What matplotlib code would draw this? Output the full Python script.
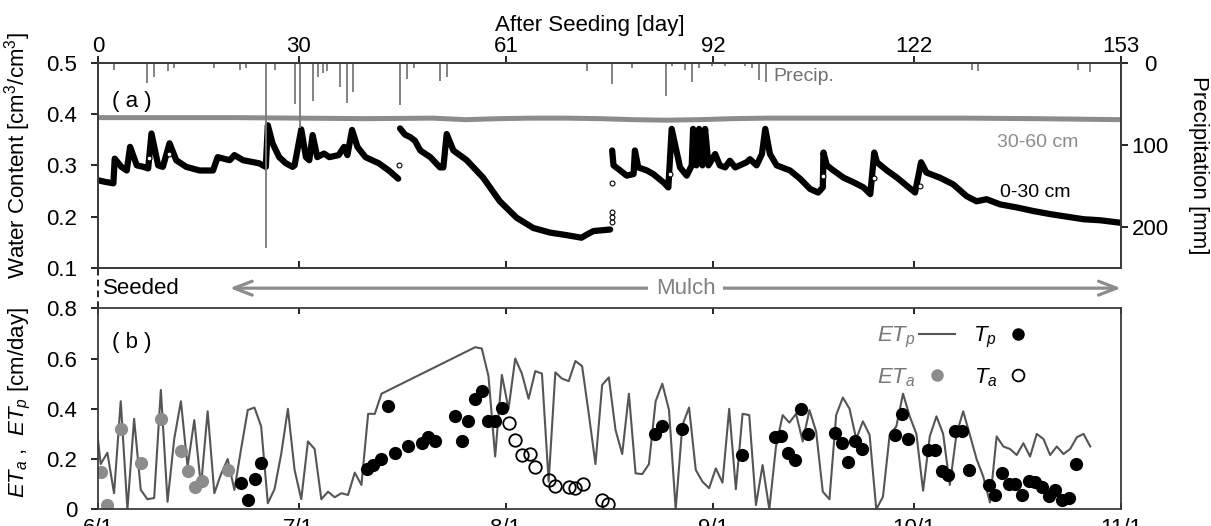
import numpy as np
import matplotlib
matplotlib.use("Agg")
import matplotlib.pyplot as plt
from matplotlib.lines import Line2D


# ---- data ----
DAY_TICKS = [0, 30, 61, 92, 122, 153]
DATE_LABELS = ["6/1", "7/1", "8/1", "9/1", "10/1", "11/1"]
WC_TICKS = [0.1, 0.2, 0.3, 0.4, 0.5]
ET_TICKS = [0, 0.2, 0.4, 0.6, 0.8]
PREC_TICKS = [0, 100, 200]

# water content 0-30 cm (NaN = gap in the record)
sm1_day = [0, 1.0, 2.3, 2.5, 3.5, 4.3, 4.8, 5.8, 6.8, 7.5, 8.0, 9.0, 9.7, 10.7, 11.7,
           13.2, 15.2, 17.2, 17.9, 19.7, 20.4, 21.7, 24.1, 25.1, 25.4, 26.1, 27.1, 28.1,
           29.1, 29.4, 30.4, 31.1, 31.6, 32.1, 32.8, 33.8, 34.6, 36.0, 36.8, 37.3, 38.0,
           38.8, 40.0, 42.0, 43.5, 44.9, np.nan,
           45.17, 45.9, 46.7, 47.4, 48.2, 49.7, 51.15, 51.65, 52.15, 53.15, 55.15, 57.6,
           60.1, 62.6, 65.1, 67.6, 70.1, 72.3, 73.1, 74.1, 76.6, np.nan,
           76.9, 77.1, 78.1, 79.07, 80.1, 80.3, 80.8, 82.1, 83.05, 84.55, 85.3, 85.8, 87.05,
           88.05, 88.8, 89.0, 89.5, 89.9, 90.4, 90.8, 91.3, 92.3, 93.0, 93.8, 94.5, 95.3,
           97.0, 97.5, 98.5, 99.3, 99.8, 100.5, 101.5, 103.5, 105.0, 106.5, 107.7, 108.4,
           108.5, 109.0, 110.0, 111.5, 113.0, 114.5, 115.5, 116.1, 116.5, 118.0, 119.5,
           121.0, 122.2, 123.1, 123.9, 125.9, 127.9, 129.9, 131.4, 132.9, 134.9, 137.4,
           139.9, 142.4, 144.9, 147.4, 149.9, 153.0]
sm1_val = [0.271, 0.268, 0.265, 0.313, 0.297, 0.29, 0.336, 0.30, 0.297, 0.294, 0.362, 0.30,
           0.297, 0.343, 0.31, 0.297, 0.29, 0.29, 0.316, 0.31, 0.32, 0.31, 0.304, 0.297,
           0.378, 0.343, 0.316, 0.304, 0.297, 0.30, 0.37, 0.316, 0.31, 0.359, 0.316, 0.323,
           0.316, 0.32, 0.336, 0.32, 0.369, 0.336, 0.316, 0.304, 0.29, 0.274, np.nan,
           0.372, 0.36, 0.355, 0.348, 0.329, 0.316, 0.296, 0.296, 0.361, 0.329, 0.31, 0.276,
           0.23, 0.198, 0.178, 0.169, 0.164, 0.159, 0.165, 0.172, 0.175, np.nan,
           0.329, 0.30, 0.29, 0.28, 0.283, 0.329, 0.296, 0.29, 0.283, 0.267, 0.257, 0.371,
           0.296, 0.28, 0.30, 0.371, 0.30, 0.371, 0.30, 0.371, 0.30, 0.322, 0.30, 0.296,
           0.309, 0.296, 0.306, 0.312, 0.30, 0.322, 0.371, 0.322, 0.30, 0.29, 0.274, 0.254,
           0.247, 0.257, 0.325, 0.30, 0.29, 0.276, 0.267, 0.257, 0.244, 0.325, 0.306, 0.29,
           0.276, 0.26, 0.247, 0.306, 0.286, 0.276, 0.263, 0.24, 0.23, 0.234, 0.224, 0.218,
           0.211, 0.205, 0.2, 0.195, 0.193, 0.188]

# isolated readings during the fast rises (hollow symbols)
jump_day = [7.6, 10.6, 45.0, 76.8, 76.8, 76.8, 76.8, 85.6, 108.4, 116.0, 123.0]
jump_val = [0.315, 0.322, 0.30, 0.19, 0.20, 0.21, 0.265, 0.283, 0.28, 0.275, 0.26]

# water content 30-60 cm
sm2_day = [0, 10, 20, 30, 40, 50, 55, 60, 65, 70, 75, 80, 85, 90, 95, 100, 110, 120, 130, 140, 153]
sm2_val = [0.393, 0.393, 0.393, 0.392, 0.391, 0.392, 0.389, 0.391, 0.392, 0.392, 0.391,
           0.389, 0.388, 0.389, 0.391, 0.392, 0.392, 0.392, 0.392, 0.391, 0.389]

# daily precipitation [mm]
prec_day = [2.4, 7.4, 8.4, 10.4, 11.3, 17.4, 21.2, 22.2, 25.2, 26.4, 29.4, 30.2, 32.2, 32.9,
            33.6, 34.2, 36.2, 37.2, 38.2, 45.2, 46.2, 47.2, 51.2, 52.2, 73.1, 76.9, 79.8,
            84.9, 85.9, 87.8, 88.9, 89.9, 91.8, 93.8, 96.8, 97.8, 98.9, 99.9, 130.7, 131.6,
            146.5, 148.4]
prec_mm = [8.5, 25, 17, 10, 6, 6, 8.5, 7, 226, 8.5, 50, 80, 47, 18, 12.6, 10.6, 30, 49, 36,
           51, 19.5, 6.5, 22, 17, 10, 26, 6.5, 40, 4.5, 8.5, 23, 6.5, 4.5, 4.5, 4.5, 6.5, 21,
           23, 8.5, 10, 8.5, 11]

# potential ET (daily, no record between day 43 and 56)
etp_day = np.r_[np.arange(-1, 43), np.arange(56, 149)] + 0.4
etp_val = [0.42, 0.18, 0.225, 0.064, 0.43, 0.0, 0.36, 0.077, 0.04, 0.045, 0.475, 0.03, 0.28,
           0.43, 0.17, 0.355, 0.09, 0.39, 0.064, 0.14, 0.2, 0.077, 0.24, 0.395, 0.405, 0.33,
           0.024, 0.08, 0.22, 0.40, 0.157, 0.04, 0.27, 0.24, 0.04, 0.07, 0.048, 0.064, 0.057,
           0.146, 0.097, 0.38, 0.38, 0.46,
           0.645, 0.64, 0.53, 0.21, 0.535, 0.40, 0.60, 0.54, 0.44, 0.55, 0.54, 0.11, 0.545,
           0.52, 0.51, 0.59, 0.57, 0.38, 0.18, 0.495, 0.525, 0.316, 0.22, 0.46, 0.143, 0.14,
           0.18, 0.43, 0.50, 0.395, 0.0, 0.335, 0.405, 0.157, 0.11, 0.084, 0.163, 0.106,
           0.40, 0.08, 0.38, 0.375, 0.017, 0.176, 0.0, 0.25, 0.375, 0.345, 0.38, 0.27,
           0.395, 0.31, 0.07, 0.04, 0.375, 0.445, 0.40, 0.28, 0.35, 0.296, 0.0, 0.05, 0.296,
           0.33, 0.46, 0.37, 0.30, 0.074, 0.29, 0.37, 0.30, 0.097, 0.30, 0.39, 0.296, 0.20,
           0.13, 0.027, 0.29, 0.25, 0.24, 0.216, 0.263, 0.21, 0.30, 0.28, 0.216, 0.25, 0.22,
           0.24, 0.287, 0.30, 0.25]

eta_day = [0.4, 1.4, 3.4, 6.4, 9.4, 12.4, 13.4, 14.5, 15.5, 19.5]
eta_val = [0.15, 0.017, 0.32, 0.186, 0.358, 0.232, 0.154, 0.088, 0.114, 0.157]

tp_day = [21.4, 22.5, 23.5, 24.4, 40.2, 41.1, 42.4, 43.4, 44.4, 46.4, 48.4, 49.4, 50.4, 53.4,
          54.4, 55.4, 56.4, 57.4, 58.4, 59.4, 60.4, 83.3, 84.3, 87.3, 96.3, 101.2, 102.2,
          103.2, 104.2, 105.2, 106.2, 110.2, 111.2, 112.2, 113.2, 114.2, 119.2, 120.2, 121.2,
          124.2, 125.2, 126.2, 127.2, 128.2, 129.2, 130.2, 133.2, 134.2, 135.2, 136.2, 137.2,
          138.2, 139.2, 140.2, 141.2, 142.2, 143.2, 144.2, 145.2, 146.2]
tp_val = [0.106, 0.037, 0.12, 0.186, 0.16, 0.176, 0.20, 0.41, 0.223, 0.252, 0.265, 0.287,
          0.273, 0.37, 0.273, 0.35, 0.44, 0.47, 0.353, 0.353, 0.405, 0.30, 0.33, 0.32, 0.216,
          0.287, 0.29, 0.226, 0.196, 0.40, 0.30, 0.305, 0.265, 0.19, 0.273, 0.24, 0.295, 0.38,
          0.278, 0.236, 0.237, 0.154, 0.137, 0.31, 0.31, 0.157, 0.095, 0.058, 0.146, 0.10,
          0.10, 0.057, 0.114, 0.108, 0.089, 0.052, 0.077, 0.037, 0.046, 0.182]

ta_day = [61.4, 62.4, 63.4, 64.6, 65.4, 67.4, 68.4, 70.4, 71.4, 72.5, 75.4, 76.3]
ta_val = [0.345, 0.277, 0.216, 0.22, 0.17, 0.116, 0.092, 0.087, 0.084, 0.10, 0.038, 0.02]

SEED_DAY = 0
MULCH_START = 19.7
MULCH_END = 153

# ---- layout (pixels of the 1211x526 target) ----
W, H = 1211, 526
X0, X1 = 98, 1121
TOP_A, BOT_A = 62.7, 268
TOP_B, BOT_B = 308.3, 509.3

GRAY = "#8c8c8c"
DARK = "#3c3c3c"
LINE = "#555555"


def px_box(top, bottom):
    return [X0 / W, 1 - bottom / H, (X1 - X0) / W, (bottom - top) / H]


def style_spines(ax):
    for sp in ax.spines.values():
        sp.set_color(DARK)
        sp.set_linewidth(1.3)


def main() -> None:
    plt.rcParams["font.family"] = "Liberation Sans"
    plt.rcParams["mathtext.fontset"] = "custom"
    plt.rcParams["mathtext.rm"] = "Liberation Sans"
    plt.rcParams["mathtext.it"] = "Liberation Sans:italic"
    plt.rcParams["font.size"] = 16

    fig = plt.figure(figsize=(W / 100, H / 100), dpi=100)
    ax_a = fig.add_axes(px_box(TOP_A, BOT_A))
    ax_m = fig.add_axes(px_box(BOT_A, TOP_B))
    ax_b = fig.add_axes(px_box(TOP_B, BOT_B))

    # (a) water content + precipitation
    ax_a.plot(sm2_day, sm2_val, color=GRAY, lw=3.6, solid_capstyle="butt")
    ax_a.plot(sm1_day, sm1_val, color="black", lw=4.5,
              solid_joinstyle="round", solid_capstyle="round")
    ax_a.plot(jump_day, jump_val, "o", ms=3.5, mfc="white", mec="black", mew=0.8)
    ax_a.set_xlim(0, 153)
    ax_a.set_ylim(0.1, 0.5)
    ax_a.set_xticks(DAY_TICKS)
    ax_a.set_yticks(WC_TICKS)
    ax_a.set_yticklabels([f"{v:.1f}" for v in WC_TICKS])
    ax_a.tick_params(axis="x", direction="in", length=5, width=1.2, labelbottom=False)
    ax_a.tick_params(axis="y", direction="out", length=5, width=1.2, pad=10)
    ax_a.set_ylabel("Water Content [cm$^3$/cm$^3$]")
    ax_a.yaxis.set_label_coords(-0.0635, 0.55)
    ax_a.text(0.0137, 0.813, "( a )", transform=ax_a.transAxes, va="center")
    ax_a.text(134.5, 0.345, "30-60 cm", color=GRAY, fontsize=14, va="center")
    ax_a.text(134.9, 0.248, "0-30 cm", color="black", fontsize=14, va="center")
    style_spines(ax_a)

    top = ax_a.secondary_xaxis("top")
    top.set_xticks(DAY_TICKS)
    top.set_xticklabels([str(d) for d in DAY_TICKS])
    top.tick_params(direction="out", length=5, width=1.2, pad=-1)
    top.set_xlabel("After Seeding [day]")
    top.xaxis.set_label_coords(0.481, 1.155, transform=ax_a.transAxes)
    style_spines(top)

    ax_p = ax_a.twinx()
    ax_p.vlines(prec_day, 0, prec_mm, color="#7a7a7a", lw=1.3)
    ax_p.set_ylim(250, 0)
    ax_p.set_yticks(PREC_TICKS)
    ax_p.tick_params(axis="y", direction="out", length=5, width=1.2, pad=16)
    plt.setp(ax_p.get_yticklabels(), ha="center")
    ax_p.set_ylabel("Precipitation [mm]", rotation=270, va="bottom")
    ax_p.yaxis.set_label_coords(1.0655, 0.5)
    ax_p.text(101, 17, "Precip.", color="#707070", fontsize=14, va="center")
    style_spines(ax_p)

    # strip between the panels
    ax_m.set_xlim(0, 153)
    ax_m.set_ylim(0, 1)
    ax_m.axis("off")
    ax_m.axvline(SEED_DAY, color="black", lw=1.2, ls=(0, (4, 2.5)), clip_on=False)
    ax_m.text(0.8, 0.5, "Seeded", va="center", ha="left")
    ax_m.annotate("", xy=(MULCH_END, 0.5), xytext=(MULCH_START, 0.5),
                  arrowprops=dict(arrowstyle="<->,head_length=0.65,head_width=0.25",
                                  color=GRAY, lw=2.3, mutation_scale=20,
                                  shrinkA=0, shrinkB=0))
    ax_m.text(87.9, 0.5, "Mulch", color="#808080", ha="center", va="center",
              bbox=dict(boxstyle="square,pad=0.35", fc="white", ec="none"))

    # (b) evapotranspiration
    ax_b.plot(etp_day, etp_val, color=LINE, lw=1.5)
    ax_b.plot(eta_day, eta_val, "o", color=GRAY, ms=9.5, mec="none")
    ax_b.plot(tp_day, tp_val, "o", color="black", ms=9.5, mec="none")
    ax_b.plot(ta_day, ta_val, "o", mfc="none", mec="black", mew=1.3, ms=9)
    ax_b.set_xlim(0, 153)
    ax_b.set_ylim(0, 0.8)
    ax_b.set_xticks(DAY_TICKS)
    ax_b.set_xticklabels(DATE_LABELS)
    ax_b.set_yticks(ET_TICKS)
    ax_b.set_yticklabels(["0"] + [f"{v:.1f}" for v in ET_TICKS[1:]])
    ax_b.tick_params(axis="x", direction="in", top=True, length=4, width=1.2, pad=6)
    ax_b.tick_params(axis="y", direction="out", length=5, width=1.2, pad=10)
    ax_b.set_ylabel(r"$ET_a$ ,  $ET_p$ [cm/day]")
    ax_b.yaxis.set_label_coords(-0.0635, 0.53)
    ax_b.text(0.0137, 0.832, "( b )", transform=ax_b.transAxes, va="center")
    style_spines(ax_b)

    handles = [
        Line2D([], [], color=LINE, lw=1.5),
        Line2D([], [], ls="none", marker="o", color=GRAY, mec="none", ms=9),
        Line2D([], [], ls="none", marker="o", color="black", mec="none", ms=9),
        Line2D([], [], ls="none", marker="o", mfc="none", mec="black", mew=1.3, ms=8.5),
    ]
    labels = [r"$ET_p$", r"$ET_a$", r"$T_p$", r"$T_a$"]
    leg = ax_b.legend(handles, labels, ncol=2, markerfirst=False, frameon=False,
                      loc="upper right", bbox_to_anchor=(0.917, 0.915),
                      borderpad=0, borderaxespad=0, handlelength=1.6,
                      handletextpad=0.15, columnspacing=0.85, labelspacing=0.7,
                      fontsize=16)
    for txt, col in zip(leg.get_texts(), ["#777777", "#777777", "black", "black"]):
        txt.set_color(col)

    fig.savefig("out.png", dpi=100, facecolor="white")
    plt.close(fig)


if __name__ == "__main__":
    main()
